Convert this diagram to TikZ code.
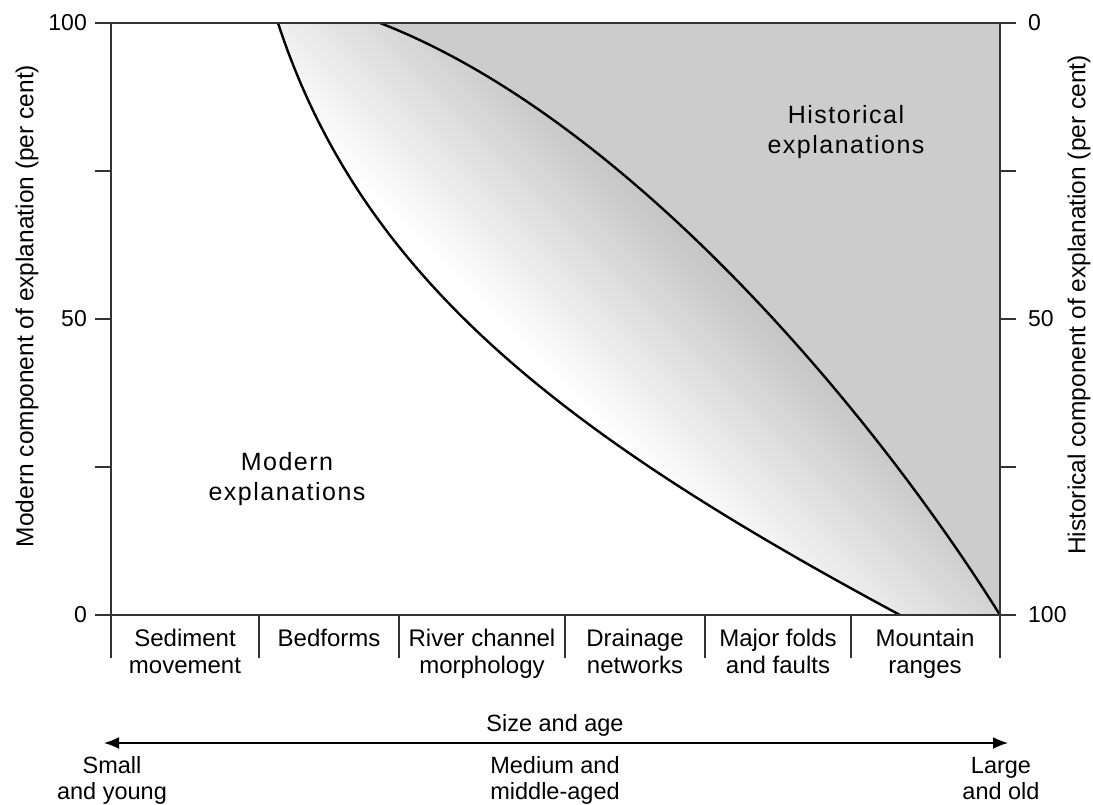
\documentclass[tikz,border=0pt]{standalone}
\usepackage{fontspec}
\setmainfont{Liberation Sans}
\usetikzlibrary{arrows.meta}

\definecolor{histgray}{gray}{0.8}
\definecolor{bandgray}{gray}{0.77}
\definecolor{axisgray}{gray}{0.2}
\pgfdeclarehorizontalshading{bandshade}{100bp}{color(0bp)=(white); color(30bp)=(white); color(73bp)=(bandgray); color(100bp)=(bandgray)}

\begin{document}
\begin{tikzpicture}[x=1pt, y=-1pt,
    axisline/.style={line width=1.6pt, draw=axisgray},
    curveline/.style={line width=2.4pt, draw=black},
    ticklabel/.style={font=\fontsize{23}{26}\selectfont, inner sep=0pt},
    axistitle/.style={font=\fontsize{24.5}{27}\selectfont, rotate=90, inner sep=0pt},
    catlabel/.style={font=\fontsize{24}{27}\selectfont, align=center, inner sep=0pt, anchor=base},
    arealabel/.style={font=\fontsize{25}{29.5}\selectfont\addfontfeatures{LetterSpace=6}, align=center, inner sep=0pt, anchor=base},
    sizelabel/.style={font=\fontsize{23.5}{26}\selectfont, align=center, inner sep=0pt, anchor=base}]
    \useasboundingbox (0,0) rectangle (1093,804);

    % Shaded band between the two curves
    \begin{scope}
        \clip (278,23) .. controls (362,280) and (565,435) .. (900,615)
            -- (1000,615) .. controls (875,415) and (630,120) .. (380,23) -- cycle;
        \begin{scope}[transform canvas={rotate around={45:(640,320)}}]
            \shade[shading=bandshade] (513,-400) rectangle (746,1040);
        \end{scope}
    \end{scope}

    % Historical area
    \fill[histgray] (380,23) .. controls (630,120) and (875,415) .. (1000,615) -- (1000,23) -- cycle;

    % Curves
    \draw[curveline] (278,23) .. controls (362,280) and (565,435) .. (900,615);
    \draw[curveline] (380,23) .. controls (630,120) and (875,415) .. (1000,615);

    % Frame and ticks
    \draw[axisline] (95,23) -- (1016,23);
    \draw[axisline] (95,615) -- (1016,615);
    \draw[axisline] (111,23) -- (111,658);
    \draw[axisline] (1000,23) -- (1000,658);
    \foreach \y in {171,319,467} {
        \draw[axisline] (95,\y) -- (111,\y);
        \draw[axisline] (1000,\y) -- (1016,\y);
    }
    \foreach \x in {259,399,565,705,851}
        \draw[axisline] (\x,615) -- (\x,658);

    % Tick labels
    \node[ticklabel, anchor=east] (mtop) at (87,23) {100};
    \node[ticklabel, anchor=east] (mmid) at (87,319) {50};
    \node[ticklabel, anchor=east] (mbot) at (87,615) {0};
    \node[ticklabel, anchor=west] (htop) at (1028,23) {0};
    \node[ticklabel, anchor=west] (hmid) at (1028,319) {50};
    \node[ticklabel, anchor=west] (hbot) at (1028,615) {100};

    % Axis titles
    \node[axistitle] (modernaxis) at (27,306) {Modern component of explanation (per cent)};
    \node[axistitle] (historicalaxis) at (1079,305) {Historical component of explanation (per cent)};

    % Area labels
    \node[arealabel] (modern) at (287,500) {Modern\\explanations};
    \node[arealabel] (historical) at (846,153) {Historical\\explanations};

    % Categories
    \node[catlabel] (sediment) at (185,673) {Sediment\\movement};
    \node[catlabel] (bedforms) at (329,646) {Bedforms};
    \node[catlabel] (river) at (482,673) {River channel\\morphology};
    \node[catlabel] (drainage) at (635,673) {Drainage\\networks};
    \node[catlabel] (folds) at (778,673) {Major folds\\and faults};
    \node[catlabel] (mountain) at (925,673) {Mountain\\ranges};

    % Size and age
    \node[sizelabel] (sizeage) at (555,731) {Size and age};
    \coordinate (sizeleft) at (104,743);
    \coordinate (sizeright) at (1008,743);
    \draw[line width=1.6pt, {Latex[length=15pt,width=12pt]}-{Latex[length=15pt,width=12pt]}] (sizeleft) -- (sizeright);
    \node[sizelabel] (small) at (112,799) {Small\\and young};
    \node[sizelabel] (medium) at (555,799) {Medium and\\middle-aged};
    \node[sizelabel] (large) at (1001,799) {Large\\and old};
\end{tikzpicture}
\end{document}
